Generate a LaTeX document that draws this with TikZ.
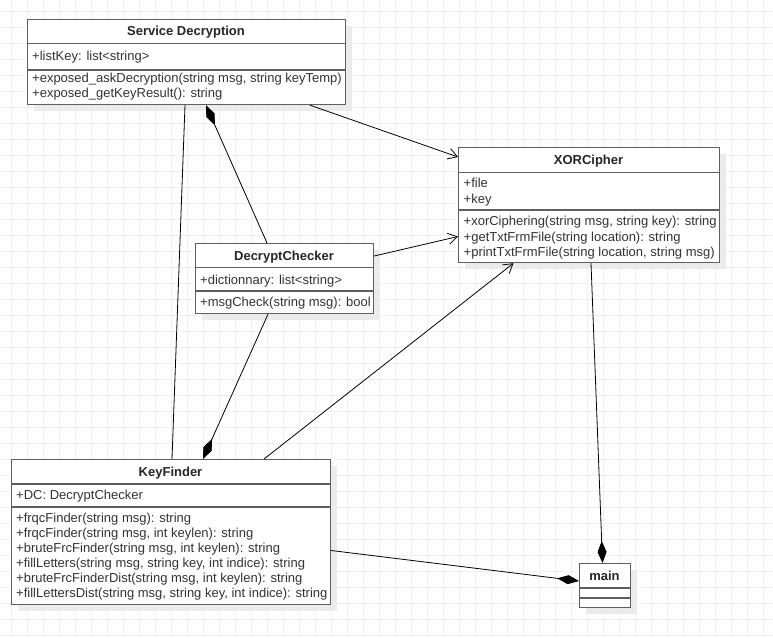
\documentclass[tikz,border=0pt]{standalone}
\usepackage{fontspec}
\setmainfont{Liberation Sans}
\usetikzlibrary{arrows.meta,calc}
\definecolor{gridc}{RGB}{240,240,240}
\definecolor{boxc}{RGB}{95,95,95}
\definecolor{txtc}{RGB}{51,51,51}
\definecolor{shadc}{RGB}{235,235,235}
\tikzset{
  umlbox/.style={draw=boxc,line width=1.2pt,fill=white,inner sep=0pt,anchor=north west},
  sepline/.style={draw=boxc,line width=1.2pt},
  shad/.style={fill=shadc},
  ttl/.style={font=\fontsize{13}{15}\selectfont\bfseries,text=black!85,inner sep=0pt,text height=9.5pt,text depth=0pt},
  itm/.style={font=\fontsize{13}{15}\selectfont,text=txtc,inner sep=0pt,anchor=west,text height=9.5pt,text depth=0pt},
  conn/.style={draw=black,line width=0.8pt},
  assoc/.style={conn,-{Straight Barb[length=9pt,width=11pt,line width=0.8pt]}},
  compo/.style={conn,-{Diamond[length=22pt,width=9pt,fill=black]}},
}
\begin{document}
\begin{tikzpicture}[x=1pt,y=-1pt]
\useasboundingbox (0,0) rectangle (773,637);
\fill[white] (0,0) rectangle (773,637);
\foreach \g in {11,27,...,772} \draw[gridc,line width=1pt] (\g,0) -- (\g,637);
\foreach \g in {11,27,...,636} \draw[gridc,line width=1pt] (0,\g) -- (773,\g);

% shadows
\fill[shad] (34,26) rectangle (352,111);
\fill[shad] (465,154) rectangle (726,269);
\fill[shad] (202,250) rectangle (380,320);
\fill[shad] (18,466) rectangle (337,611);
\fill[shad] (586,570) rectangle (637,614);

% Service Decryption
\node[umlbox,minimum width=318pt,minimum height=85pt] (sd) at (27,19) {};
\draw[sepline] (27,43.5) -- (345,43.5);
\draw[sepline] (27,70) -- (345,70);
\node[ttl] (sdt) at (186,31) {Service Decryption};
\node[itm] (sda) at (32,55.5) {+listKey: list<string>};
\node[itm] (sdm1) at (32,77.5) {+exposed\_askDecryption(string msg, string keyTemp)};
\node[itm] (sdm2) at (32,92.5) {+exposed\_getKeyResult(): string};

% XORCipher
\node[umlbox,minimum width=261pt,minimum height=115pt] (xor) at (458,147) {};
\draw[sepline] (458,172.5) -- (719,172.5);
\draw[sepline] (458,210) -- (719,210);
\node[ttl] (xort) at (588.5,159.5) {XORCipher};
\node[itm] (xora1) at (463.5,183) {+file};
\node[itm] (xora2) at (463.5,198.5) {+key};
\node[itm] (xorm1) at (463.5,221) {+xorCiphering(string msg, string key): string};
\node[itm] (xorm2) at (463.5,236.5) {+getTxtFrmFile(string location): string};
\node[itm] (xorm3) at (463.5,252) {+printTxtFrmFile(string location, string msg)};

% DecryptChecker
\node[umlbox,minimum width=178pt,minimum height=70pt] (dc) at (195,243) {};
\draw[sepline] (195,267.5) -- (373,267.5);
\draw[sepline] (195,291) -- (373,291);
\node[ttl] (dct) at (284,256) {DecryptChecker};
\node[itm] (dca) at (200,279.5) {+dictionnary: list<string>};
\node[itm] (dcm) at (200,302) {+msgCheck(string msg): bool};

% KeyFinder
\node[umlbox,minimum width=319pt,minimum height=145pt] (kf) at (11,459) {};
\draw[sepline] (11,484) -- (330,484);
\draw[sepline] (11,507) -- (330,507);
\node[ttl] (kft) at (170.5,472) {KeyFinder};
\node[itm] (kfa) at (16,494.5) {+DC: DecryptChecker};
\node[itm] (kfm1) at (16,517.5) {+frqcFinder(string msg): string};
\node[itm] (kfm2) at (16,532.5) {+frqcFinder(string msg, int keylen): string};
\node[itm] (kfm3) at (16,547.5) {+bruteFrcFinder(string msg, int keylen): string};
\node[itm] (kfm4) at (16,562.5) {+fillLetters(string msg, string key, int indice): string};
\node[itm] (kfm5) at (16,577.5) {+bruteFrcFinderDist(string msg, int keylen): string};
\node[itm] (kfm6) at (16,592.5) {+fillLettersDist(string msg, string key, int indice): string};

% main
\node[umlbox,minimum width=51pt,minimum height=44pt] (mn) at (579,563) {};
\draw[sepline] (579,588) -- (630,588);
\draw[sepline] (579,598) -- (630,598);
\node[ttl] (mnt) at (604.5,575.5) {main};

% connectors
\draw[assoc] ($(sd.south west)+(283,0)$) -- ($(xor.north west)+(0,10)$);
\draw[assoc] ($(dc.north east)+(0,13)$) -- ($(xor.north west)+(0,89.5)$);
\draw[assoc] ($(kf.north west)+(253,0)$) -- ($(xor.south west)+(55.5,0)$);
\draw[compo] ($(dc.north west)+(72,0)$) -- ($(sd.south west)+(179,0)$);
\draw[conn] ($(sd.south west)+(158,0)$) -- ($(kf.north west)+(161,0)$);
\draw[compo] ($(dc.south west)+(73,0)$) -- ($(kf.north west)+(192,0)$);
\draw[compo] ($(xor.south west)+(133,0)$) -- ($(mn.north west)+(23.5,0)$);
\draw[compo] ($(kf.north east)+(0,91.5)$) -- ($(mn.north west)+(0,18)$);
\end{tikzpicture}
\end{document}
